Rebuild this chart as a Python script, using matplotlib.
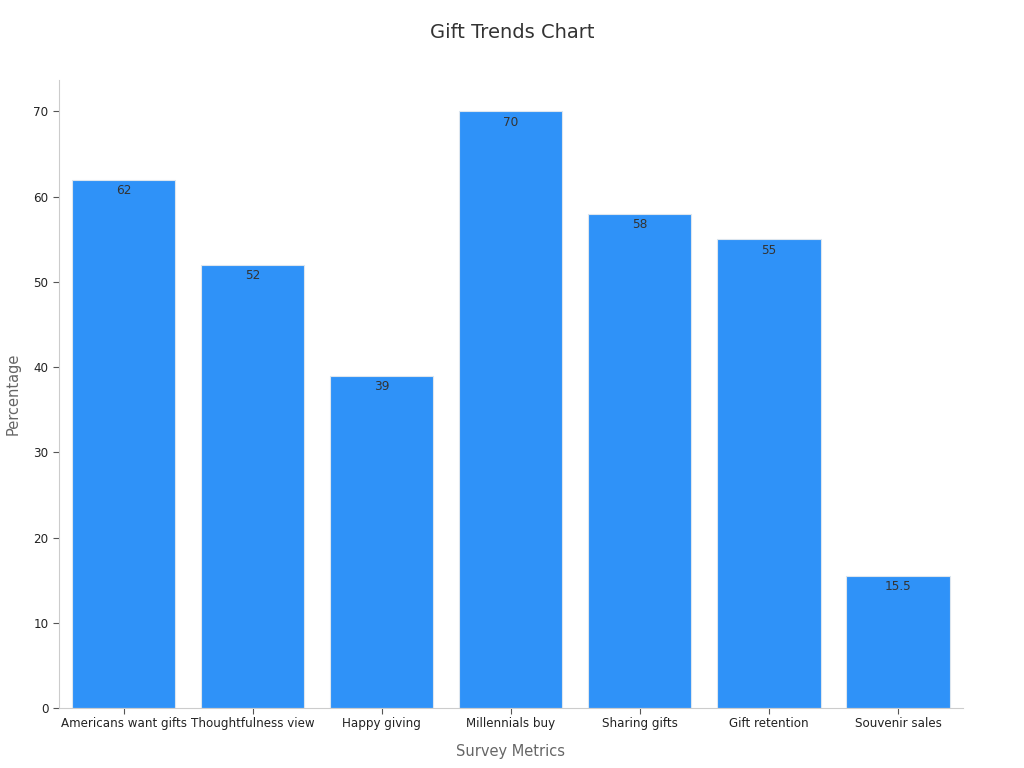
import matplotlib
matplotlib.use("Agg")
import matplotlib.pyplot as plt

categories = ["Americans want gifts", "Thoughtfulness view", "Happy giving",
              "Millennials buy", "Sharing gifts", "Gift retention", "Souvenir sales"]
values = [62, 52, 39, 70, 58, 55, 15.5]
value_labels = ["62", "52", "39", "70", "58", "55", "15.5"]

fig = plt.figure(figsize=(10.24, 7.68), dpi=100)
ax = fig.add_axes([0.0576, 0.078, 0.8824, 0.818])

bars = ax.bar(range(len(categories)), values, width=0.8, color="#2f92f8",
              edgecolor="#dde6ee", linewidth=0.8)
for b, lab in zip(bars, value_labels):
    ax.text(b.get_x() + b.get_width() / 2, b.get_height() - 0.5, lab,
            ha="center", va="top", fontsize=8.7, color="#333333")

ax.set_xlim(-0.5, 6.5)
ax.set_ylim(0, 73.7)
ax.set_xticks(range(len(categories)))
ax.set_xticklabels(categories, fontsize=8.6, color="#222222")
ax.set_yticks(range(0, 71, 10))
ax.tick_params(axis="y", labelsize=8.6, colors="#222222")
ax.tick_params(axis="both", color="#555555", length=4)
ax.tick_params(axis="x", pad=2.5)
for s in ["top", "right"]:
    ax.spines[s].set_visible(False)
for s in ["left", "bottom"]:
    ax.spines[s].set_color("#cccccc")

ax.set_xlabel("Survey Metrics", fontsize=10.5, color="#666666", labelpad=10)
ax.set_ylabel("Percentage", fontsize=10.5, color="#666666", labelpad=9)
fig.suptitle("Gift Trends Chart", fontsize=14, color="#333333", y=0.97)

fig.savefig("out.png", dpi=100)
